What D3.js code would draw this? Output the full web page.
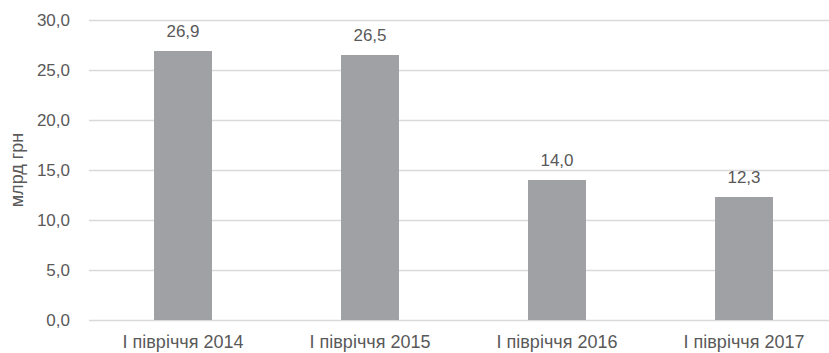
<!DOCTYPE html>
<html>
<head>
<meta charset="utf-8">
<script src="https://cdn.jsdelivr.net/npm/d3@7"></script>
<style>
  body { margin: 0; background: #fff; }
  svg text { font-family: "Liberation Sans", Arial, sans-serif; fill: #595959; }
</style>
</head>
<body>
<div id="chart"></div>
<script>
const categories = ['I півріччя 2014', 'I півріччя 2015', 'I півріччя 2016', 'I півріччя 2017'];
const values = [26.9, 26.5, 14.0, 12.3];
const yTicks = [0, 5, 10, 15, 20, 25, 30];
const yTitle = 'млрд грн';

const w = 829,
  h = 353;

const svg = d3
  .select('#chart')
  .append('svg')
  .attr('width', w)
  .attr('height', h);

const x = d3.scaleBand().domain(categories).range([89.5, 837.5]).paddingInner(0.69).paddingOuter(0.345);
const y = d3.scaleLinear().domain([0, 30]).range([320, 20]);
const fmt = (d) => d3.format('.1f')(d).replace('.', ',');

// gridlines
svg
  .selectAll('.grid')
  .data(yTicks)
  .join('line')
  .attr('class', 'grid')
  .attr('x1', 89)
  .attr('x2', w)
  .attr('y1', (d) => y(d) + 0.5)
  .attr('y2', (d) => y(d) + 0.5)
  .attr('stroke', '#d9d9d9')
  .attr('stroke-width', 1.5);

// y axis labels
const yAxis = svg
  .append('g')
  .attr('transform', 'translate(70,0)')
  .call(d3.axisLeft(y).tickValues(yTicks).tickFormat(fmt).tickSize(0).tickPadding(0));
yAxis.select('.domain').remove();
yAxis.selectAll('text').attr('font-size', 17).attr('fill', '#595959').attr('font-family', 'Liberation Sans, Arial, sans-serif');

svg
  .append('text')
  .attr('transform', 'translate(23,170) rotate(-90)')
  .attr('text-anchor', 'middle')
  .attr('font-size', 18)
  .text(yTitle);

// bars
svg
  .selectAll('.bar')
  .data(values)
  .join('rect')
  .attr('class', 'bar')
  .attr('x', (d, i) => x(categories[i]))
  .attr('width', x.bandwidth())
  .attr('y', (d) => y(d))
  .attr('height', (d) => y(0) - y(d))
  .attr('fill', '#a0a1a5');

// value labels
svg
  .selectAll('.val')
  .data(values)
  .join('text')
  .attr('class', 'val')
  .attr('x', (d, i) => x(categories[i]) + x.bandwidth() / 2)
  .attr('y', (d) => y(d) - 14)
  .attr('text-anchor', 'middle')
  .attr('font-size', 17)
  .text(fmt);

// category labels (kept just inside the bottom edge)
const xAxis = svg
  .append('g')
  .attr('transform', 'translate(0,320)')
  .call(d3.axisBottom(x).tickSize(0).tickPadding(15));
xAxis.select('.domain').remove();
xAxis.selectAll('text').attr('font-size', 18).attr('fill', '#595959').attr('font-family', 'Liberation Sans, Arial, sans-serif');
</script>
</body>
</html>
